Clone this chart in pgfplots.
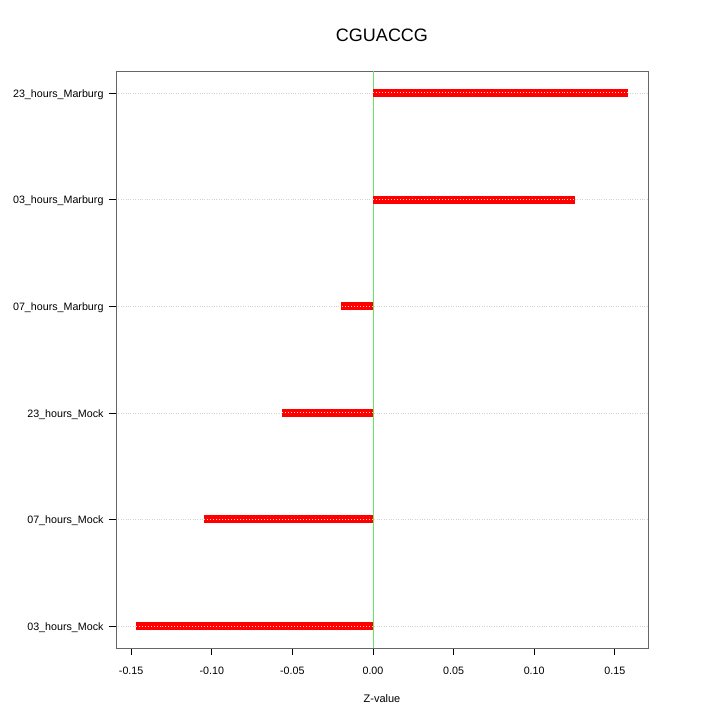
\documentclass[border=0pt]{standalone}
\usepackage{pgfplots}
\pgfplotsset{compat=1.18}
\usepackage{pgfplotstable}
\usepackage{fontspec}
\setmainfont{Liberation Sans}
\definecolor{zeroline}{RGB}{102,230,102}
\pgfplotstableread{
y z
1 -0.147
2 -0.105
3 -0.0565
4 -0.020
5 0.1255
6 0.158
}\zdata
\begin{document}
\begin{tikzpicture}
\begin{axis}[
  scale only axis,
  width=532bp, height=577bp,
  xmin=-0.1594, xmax=0.1706,
  ymin=0.794, ymax=6.206,
  xtick={-0.15,-0.10,-0.05,0,0.05,0.10,0.15},
  xticklabel style={/pgf/number format/.cd, fixed, fixed zerofill, precision=2, assume math mode=true},
  ytick={1,2,3,4,5,6},
  yticklabels={03\_hours\_Mock,07\_hours\_Mock,23\_hours\_Mock,07\_hours\_Marburg,03\_hours\_Marburg,23\_hours\_Marburg},
  tick label style={font=\fontsize{10.7bp}{12bp}\selectfont, black},
  yticklabel style={yshift=-1.5bp},
  xtick pos=bottom, ytick pos=left,
  tick align=outside,
  major tick length=7bp,
  tick style={black, line width=0.6bp},
  xticklabel shift=9bp,
  yticklabel shift=2bp,
  ymajorgrids,
  major grid style={gray!35, dotted, line width=0.6bp},
  axis line style={gray!80!black, line width=0.8bp},
  xlabel={Z-value},
  xlabel style={font=\fontsize{11bp}{13bp}\selectfont, yshift=-13bp},
  title={CGUACCG},
  title style={font=\fontsize{18bp}{20bp}\selectfont, yshift=20bp},
]
\addplot[zeroline, line width=0.8bp] coordinates {(0,0.794) (0,6.206)};
\addplot[xcomb, red, line width=8bp, mark=none] table[x=z, y=y] {\zdata};
\addplot[xcomb, white!80!red, dotted, line width=1bp, mark=none] table[x=z, y=y] {\zdata};
\end{axis}
\path (current axis.south west) ++(-116bp,-72bp) rectangle ++(720bp,720bp);
\end{tikzpicture}
\end{document}
